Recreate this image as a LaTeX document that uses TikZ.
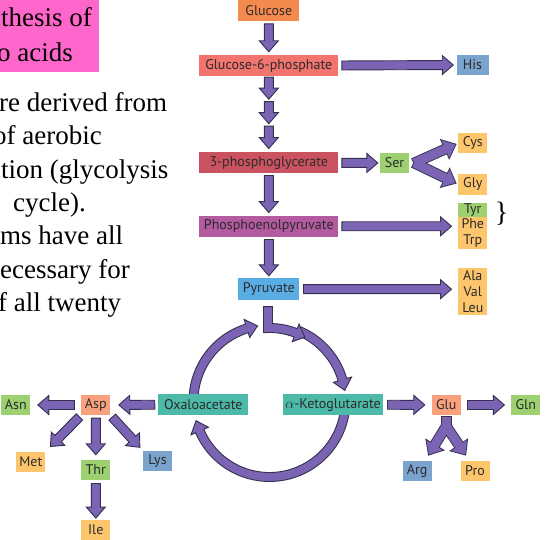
\documentclass[tikz,border=0pt]{standalone}
\usepackage{fontspec}
\setmainfont{Liberation Serif}
\newfontfamily\lblfont{PT Sans}
\usetikzlibrary{calc}
\definecolor{TitlePink}{HTML}{FF66CC}
\definecolor{GlcOrange}{HTML}{F48A4E}
\definecolor{HexRed}{HTML}{F2746F}
\definecolor{TrioseRed}{HTML}{CB5361}
\definecolor{PepMagenta}{HTML}{B35AA1}
\definecolor{PyrBlue}{HTML}{5AADE2}
\definecolor{CycTeal}{HTML}{4DB9A9}
\definecolor{AaGreen}{HTML}{9DD070}
\definecolor{AaYellow}{HTML}{FDC66D}
\definecolor{AaBlue}{HTML}{7AA3CD}
\definecolor{AaSalmon}{HTML}{F9A07C}
\definecolor{ArrFill}{HTML}{7B64B4}
\definecolor{ArrLine}{HTML}{35304F}
\definecolor{LblText}{HTML}{2B2B2B}

% block arrow: [style]{gap at start}{gap at end}{from}{to}
\newcommand\blkarr[5][blk]{%
  \coordinate (ba) at ($(#4)!#2!(#5)$);
  \coordinate (bb) at ($(#5)!#3!(#4)$);
  \coordinate (bh) at ($(bb)!11pt!(ba)$);
  \path[#1] ($(ba)!4.5pt!90:(bb)$) -- ($(bh)!4.5pt!-90:(ba)$) -- ($(bh)!9.5pt!-90:(ba)$) -- (bb)
    -- ($(bh)!9.5pt!90:(ba)$) -- ($(bh)!4.5pt!90:(ba)$) -- ($(ba)!4.5pt!-90:(bb)$) -- cycle;}

\begin{document}
\begin{tikzpicture}[
    x=1pt, y=1pt,
    lbl/.style={font=\lblfont\fontsize{14}{15.8}\selectfont, text=LblText, inner sep=0pt, align=center},
    inter/.style={lbl, minimum height=21pt},
    aa/.style={lbl, minimum width=29pt, minimum height=20pt},
    body/.style={anchor=base west, inner sep=0pt, font=\fontsize{27}{33}\selectfont},
    blk/.style={fill=ArrFill, draw=ArrLine, line width=0.9pt, line join=miter},
    blkline/.style={draw=ArrLine, line width=1.8pt, line join=miter},
    blkfill/.style={fill=ArrFill},
  ]
    \useasboundingbox (0,0) rectangle (549,540);

    % ============ slide text ============
    \fill[TitlePink] (-1,468) rectangle (99,541);
    \node[body] (ttl1) at (1,513.3)  {thesis of};
    \node[body] (ttl2) at (-3,478.3) {o acids};
    \node[body] (ln1) at (-1,428.3) {re derived from};
    \node[body] (ln2) at (-7,395)   {of aerobic};
    \node[body] (ln3) at (1,361.7)  {tion (glycolysis};
    \node[body] (ln4) at (13,328.3) {cycle).};
    \node[body] (ln5) at (0,295)    {ms have all};
    \node[body] (ln6) at (0,261.7)  {ecessary for};
    \node[body] (ln7) at (-2,228.3) {f all twenty};

    % ============ citric acid cycle (under the boxes) ============
    \coordinate (cyc) at (269.5,139);
    \begin{scope}[shift={(cyc)}]
      % oxaloacetate -> top
      \path[blk] (180:80.5) arc[start angle=180, end angle=107.3, radius=80.5] -- (107.3:85.5) -- (99:76)
        -- (107.3:66.5) -- (107.3:71.5) arc[start angle=107.3, end angle=180, radius=71.5] -- cycle;
      % top -> alpha-ketoglutarate
      \path[blk] (68:80.5) arc[start angle=68, end angle=16.3, radius=80.5] -- (16.3:85.5) -- (8:76)
        -- (16.3:66.5) -- (16.3:71.5) arc[start angle=16.3, end angle=68, radius=71.5] -- cycle;
      % alpha-ketoglutarate -> oxaloacetate
      \path[blk] (0:80.5) arc[start angle=0, end angle=-156.7, radius=80.5] -- (-156.7:85.5) -- (-165:76)
        -- (-156.7:66.5) -- (-156.7:71.5) arc[start angle=-156.7, end angle=0, radius=71.5] -- cycle;
      % pyruvate enters the cycle
      \path[blk] (-6,94.3) -- (95.02:68.5) arc[start angle=95.02, end angle=69, radius=68.5] -- (69:63.5)
        -- (61:73) -- (69:82.5) -- (69:77.5) arc[start angle=69, end angle=87.78, radius=77.5] -- (3,94.3) -- cycle;
    \end{scope}

    % ============ intermediates ============
    \node[inter, fill=GlcOrange,  minimum width=61pt]  (glc) at (268.8,529.8) {Glucose};
    \node[inter, fill=HexRed,     minimum width=139pt] (g6p) at (268.8,474.5) {Glucose-6-phosphate};
    \node[inter, fill=TrioseRed,  minimum width=139pt] (p3g) at (268.8,377.2) {3-phosphoglycerate};
    \node[inter, fill=PepMagenta, minimum width=139pt] (pep) at (268.8,313.7) {Phosphoenolpyruvate};
    \node[inter, fill=PyrBlue,    minimum width=61pt, minimum height=21.7pt] (pyr) at (268.8,250.8) {Pyruvate};
    \node[inter, fill=CycTeal,    minimum width=90pt]  (oxa) at (203.3,135.3) {Oxaloacetate};
    \node[inter, fill=CycTeal,    minimum width=100.6pt] (akg) at (333,135.3) {$\alpha$-Ketoglutarate};

    % ============ amino acids ============
    \node[aa, fill=AaBlue, minimum width=32pt] (his) at (472.5,475) {His};
    \node[aa, fill=AaGreen]  (ser) at (394.5,377)   {Ser};
    \node[aa, fill=AaYellow] (cys) at (472.8,396.7) {Cys};
    \node[aa, fill=AaYellow, minimum height=21pt] (gly) at (472.8,355.8) {Gly};
    \node[aa, fill=AaGreen,  minimum height=14pt] (tyr) at (472.8,330.3) {Tyr};
    \node[aa, fill=AaYellow, minimum height=32.6pt] (phetrp) at (472.8,307) {Phe\\Trp};
    \node[aa, fill=AaYellow, minimum height=46.7pt] (ala) at (472.8,248.3) {Ala\\Val\\Leu};
    \node[inner sep=0pt, font=\fontsize{28}{28}\selectfont] (brc) at (501.5,326) {\}};
    \node[aa, fill=AaSalmon] (asp) at (95.8,135)  {Asp};
    \node[aa, fill=AaGreen]  (asn) at (15.8,135)  {Asn};
    \node[aa, fill=AaYellow] (met) at (30.8,78.3)  {Met};
    \node[aa, fill=AaGreen]  (thr) at (95.8,70)   {Thr};
    \node[aa, fill=AaBlue]   (lys) at (157.5,79.3) {Lys};
    \node[aa, fill=AaYellow] (ile) at (95.8,10)   {Ile};
    \node[aa, fill=AaSalmon] (glu) at (446.2,135) {Glu};
    \node[aa, fill=AaGreen]  (gln) at (525.8,135) {Gln};
    \node[aa, fill=AaBlue]   (arg) at (417.2,69.3) {Arg};
    \node[aa, fill=AaYellow] (pro) at (475,69.3)  {Pro};

    % ============ arrows ============
    \coordinate (m1) at ([yshift=-24pt]g6p.south);
    \coordinate (m2) at ([yshift=-48.5pt]g6p.south);
    \blkarr{3pt}{3pt}{glc.south}{g6p.north}
    \blkarr{1pt}{1pt}{g6p.south}{m1}
    \blkarr{1.5pt}{1pt}{m1}{m2}
    \blkarr{1.5pt}{3.5pt}{m2}{p3g.north}
    \blkarr{2pt}{3pt}{p3g.south}{pep.north}
    \blkarr{2.5pt}{2.3pt}{pep.south}{pyr.north}
    \blkarr{3.4pt}{3pt}{g6p.east}{his.west}
    \blkarr{3.4pt}{2pt}{p3g.east}{ser.west}
    \coordinate (aroin) at (pep.east -| phetrp.west);
    \coordinate (alain) at (pyr.east -| ala.west);
    \blkarr{3.4pt}{6.6pt}{pep.east}{aroin}
    \blkarr{4pt}{6.6pt}{pyr.east}{alain}

    % Ser fork
    \coordinate (serfork) at ([xshift=5pt]ser.east);
    \blkarr[blkline]{0pt}{3pt}{serfork}{cys.west}
    \blkarr[blkline]{0pt}{3pt}{serfork}{gly.west}
    \blkarr[blkfill]{0pt}{3pt}{serfork}{cys.west}
    \blkarr[blkfill]{0pt}{3pt}{serfork}{gly.west}

    % aspartate family
    \blkarr{3.3pt}{8.3pt}{oxa.west}{asp.east}
    \blkarr{6.7pt}{7.3pt}{asp.west}{asn.east}
    \blkarr{2.4pt}{7pt}{asp.south west}{met.north east}
    \blkarr{3pt}{5pt}{asp.south}{thr.north}
    \blkarr{2.6pt}{4.3pt}{asp.south east}{lys.north west}
    \blkarr{3.3pt}{1.7pt}{thr.south}{ile.north}

    % glutamate family
    \blkarr{4pt}{6.7pt}{akg.east}{glu.west}
    \blkarr{6.6pt}{6.7pt}{glu.east}{gln.west}
    \coordinate (gluf) at ([yshift=-11pt]glu.south);
    \coordinate (argtip) at ([shift={(-3,6)}]arg.north east);
    \coordinate (protip) at ([shift={(5,6)}]pro.north west);
    \path[blkline] ([shift={(-4.5,-2)}]glu.south) rectangle ([xshift=4.5pt]gluf);
    \blkarr[blkline]{0pt}{0pt}{gluf}{argtip}
    \blkarr[blkline]{0pt}{0pt}{gluf}{protip}
    \path[blkfill] ([shift={(-4.5,-2)}]glu.south) rectangle ([xshift=4.5pt]gluf);
    \blkarr[blkfill]{0pt}{0pt}{gluf}{argtip}
    \blkarr[blkfill]{0pt}{0pt}{gluf}{protip}
  \end{tikzpicture}
\end{document}
